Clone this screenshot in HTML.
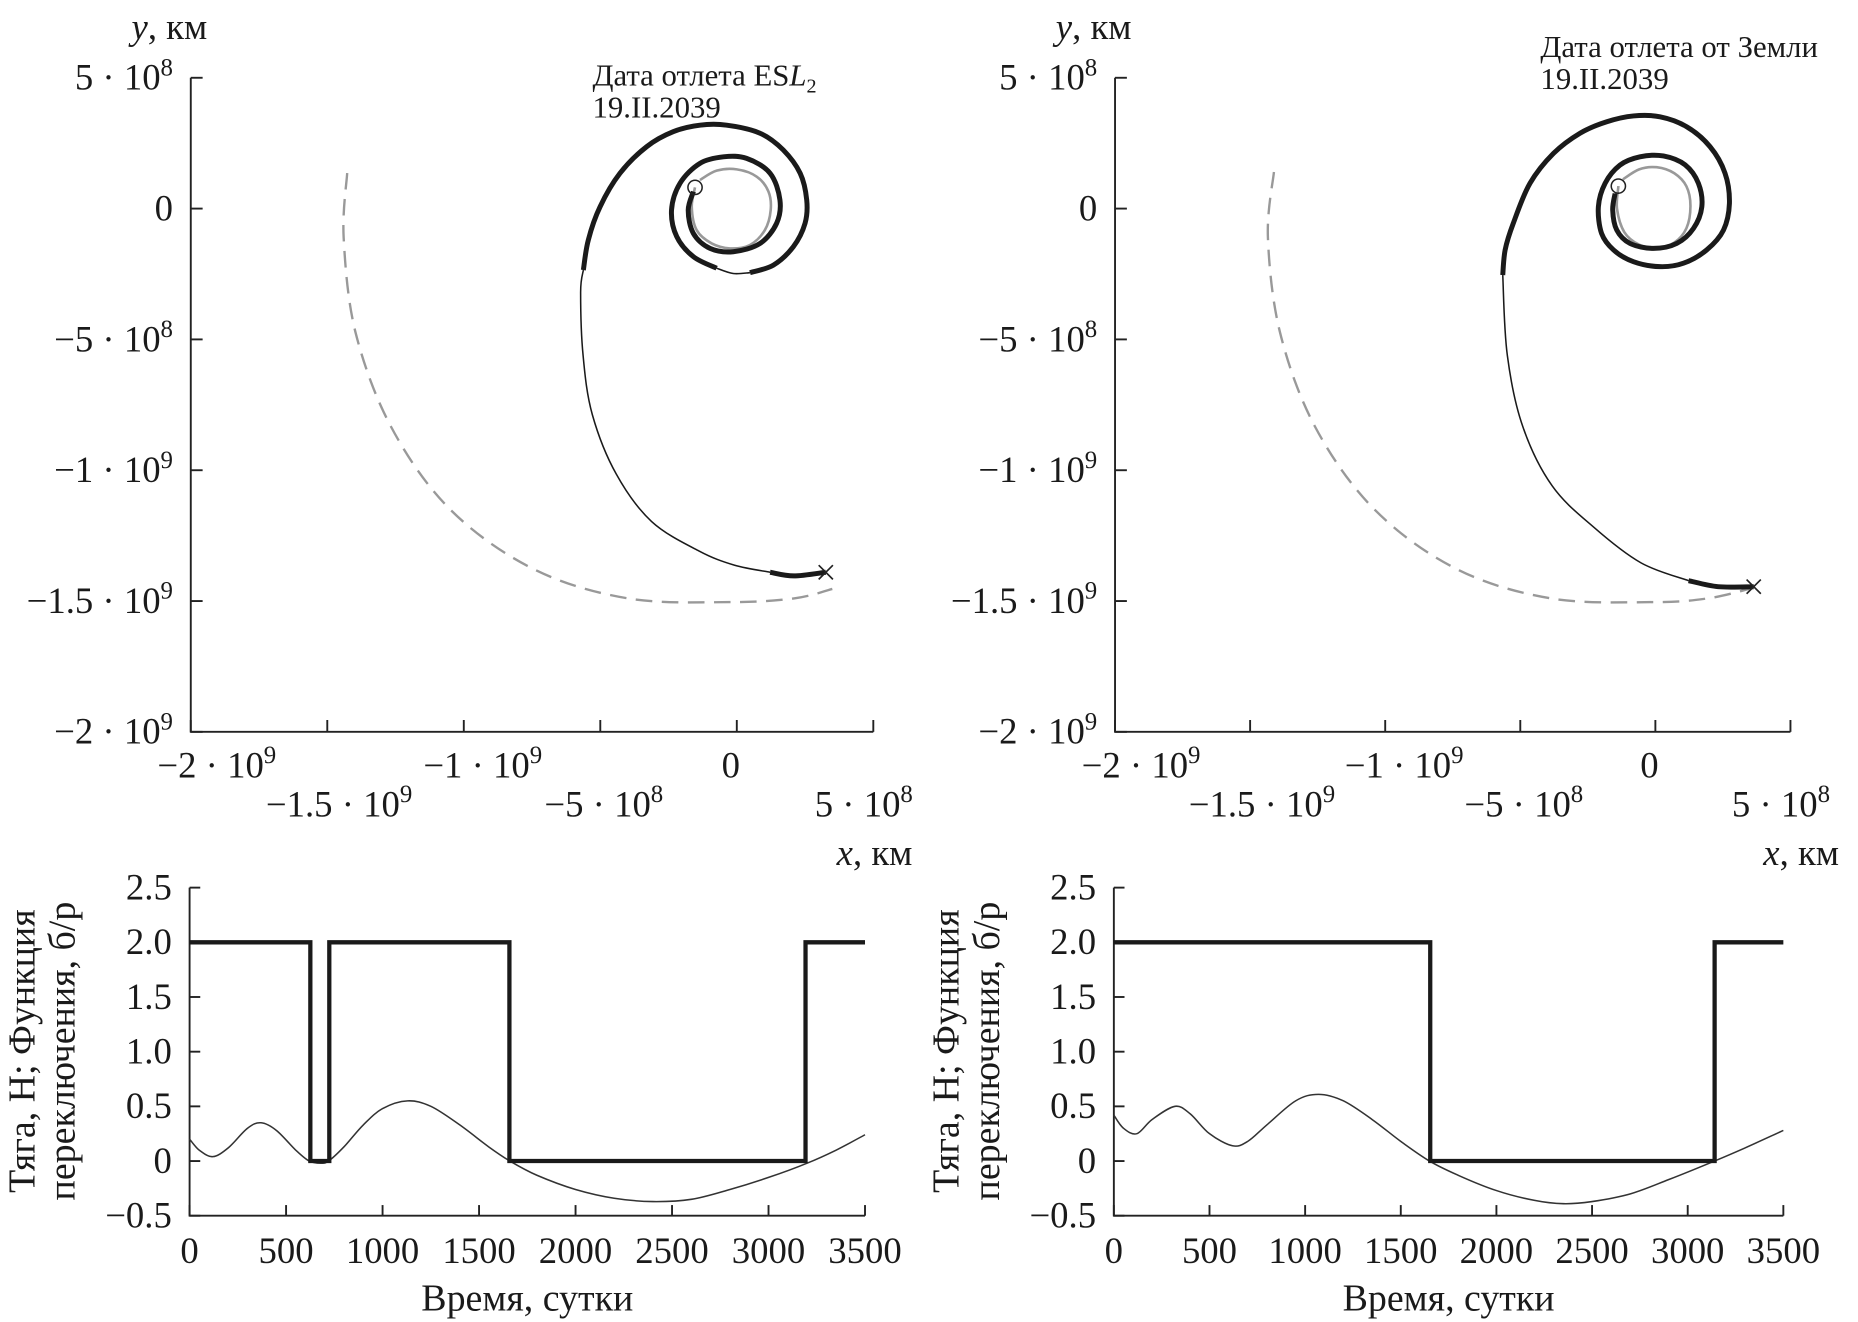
<!DOCTYPE html>
<html><head><meta charset="utf-8"><style>
html,body{margin:0;padding:0;background:#fff;}
svg{display:block;}
text{font-family:"Liberation Serif",serif;fill:#1a1a1a;}
</style></head><body>
<svg id="fig" width="1858" height="1322" viewBox="0 0 1568 1115.6" xmlns="http://www.w3.org/2000/svg"></svg>
<script>
// ===== data (trajectory coords in units of 1e8 km) =====
const leftArcs = [
 {thick:true, x:[-1.59,-1.78,-1.59,-0.98,-0.13,0.85,1.46,1.58,1.22,0.36,-0.49,-1.35,-2.08,-2.39,-2.20,-1.59,-0.74], y:[0.65,-0.06,-0.95,-1.52,-1.65,-1.33,-0.56,0.33,1.35,1.92,1.98,1.73,0.97,-0.06,-1.07,-1.84,-2.28]},
 {thick:false, x:[-0.74,-0.13,0.48], y:[-2.28,-2.48,-2.45]},
 {thick:true, x:[0.48,1.34,2.07,2.50,2.56,2.32,1.70,0.85,-0.37,-1.35,-2.33,-3.30,-4.28,-5.01,-5.44,-5.62], y:[-2.45,-2.16,-1.46,-0.56,0.33,1.35,2.24,2.88,3.19,3.19,2.94,2.37,1.35,0.07,-1.2,-2.35]},
 {thick:false, x:[-5.62,-5.72,-5.63,-5.29,-4.42,-3.12,-1.38,-0.08,1.22], y:[-2.35,-3.2,-5.62,-7.88,-10.14,-11.96,-13.09,-13.63,-13.9]},
 {thick:true, x:[1.22,2.09,3.26], y:[-13.9,-14.04,-13.9]}
];
const leftEarthX = [-1.35,-0.74,0.0,0.73,1.16,1.24,1.03,0.48,-0.25,-0.92,-1.47,-1.65,-1.53];
const leftEarthY = [1.09,1.45,1.50,1.22,0.65,-0.06,-0.82,-1.39,-1.52,-1.33,-0.82,0.07,0.81];
const leftMarsX = [-14.27,-14.4,-13.97,-12.67,-10.5,-7.46,-3.98,-0.2,2.09,3.5];
const leftMarsY = [1.36,-1.09,-4.71,-8.33,-11.5,-13.77,-14.9,-15.04,-14.9,-14.54];
const leftStart = [-1.53,0.81];
const leftEnd = [3.26,-13.9];

const rightArcs = [
 {thick:true, x:[-1.49,-1.58,-1.43,-0.94,-0.07,0.79,1.41,1.72,1.59,1.10,0.30,-0.57,-1.31,-1.86,-2.11,-1.99,-1.55,-0.81,0.17,1.04,1.90,2.52,2.74,2.58,2.02,1.16,0.17,-0.81,-1.80,-2.79,-3.77,-4.64,-5.26,-5.56,-5.65], y:[0.58,-0.06,-0.82,-1.33,-1.52,-1.33,-0.76,0.07,0.97,1.67,2.01,1.98,1.66,0.97,0.07,-0.95,-1.58,-2.03,-2.22,-2.09,-1.58,-0.82,0.20,1.35,2.37,3.13,3.51,3.54,3.32,2.88,2.11,0.97,-0.56,-1.58,-2.54]},
 {thick:false, x:[-5.65,-5.48,-4.91,-3.82,-2.28,-0.53,1.23], y:[-2.54,-5.62,-8.33,-10.6,-12.18,-13.54,-14.22]},
 {thick:true, x:[1.23,2.32,3.64], y:[-14.22,-14.45,-14.45]}
];
const rightEarthX = [-1.2,-0.6,0.05,0.7,1.15,1.3,1.15,0.7,0.05,-0.6,-1.15,-1.42,-1.37];
const rightEarthY = [1.12,1.5,1.58,1.35,0.85,0.1,-0.75,-1.3,-1.5,-1.38,-0.9,0.0,0.86];
const rightMarsX = [-14.12,-14.34,-13.9,-12.6,-10.4,-7.37,-3.86,-0.04,1.93,3.46];
const rightMarsY = [1.40,-1.09,-4.71,-8.33,-11.5,-13.77,-14.9,-15.04,-14.9,-14.54];
const rightStart = [-1.37,0.86];
const rightEnd = [3.64,-14.45];

// bottom charts: thrust (steps) and switching function
const leftThrustT = [0,626,626,724,724,1657,1657,3192,3192,3500];
const leftThrustV = [2,2,0,0,2,2,0,0,2,2];
const leftSwT = [0,50,120,200,300,370,450,550,620,680,720,800,900,1000,1130,1250,1400,1550,1660,1800,2000,2200,2400,2600,2800,3000,3200,3350,3500];
const leftSwV = [0.2,0.1,0.04,0.12,0.3,0.35,0.28,0.1,0.0,-0.02,0.0,0.13,0.33,0.48,0.55,0.5,0.33,0.13,0.0,-0.13,-0.26,-0.34,-0.37,-0.35,-0.26,-0.15,-0.02,0.1,0.24];
const rightThrustT = [0,1654,1654,3141,3141,3500];
const rightThrustV = [2,2,0,0,2,2];
const rightSwT = [0,50,120,200,320,400,500,620,700,800,950,1070,1200,1350,1500,1650,1800,2000,2200,2350,2500,2700,2900,3140,3300,3500];
const rightSwV = [0.42,0.3,0.25,0.38,0.5,0.43,0.25,0.14,0.18,0.33,0.55,0.61,0.55,0.38,0.18,0.0,-0.13,-0.27,-0.36,-0.39,-0.37,-0.3,-0.17,0.0,0.12,0.28];

const yTicksTop = [5,0,-5,-10,-15,-20];
const yTickLabelsTop = [["5 · 10","8"],["0",""],["−5 · 10","8"],["−1 · 10","9"],["−1.5 · 10","9"],["−2 · 10","9"]];
const xTicksTop = [-20,-15,-10,-5,0,5];
const xTickLabelsTop = [["−2 · 10","9"],["−1.5 · 10","9"],["−1 · 10","9"],["−5 · 10","8"],["0",""],["5 · 10","8"]];
const yTicksBot = [2.5,2.0,1.5,1.0,0.5,0,-0.5];
const yTickLabelsBot = ["2.5","2.0","1.5","1.0","0.5","0","−0.5"];
const xTicksBot = [0,500,1000,1500,2000,2500,3000,3500];

// ===== drawing =====
const svg = document.getElementById('fig');
const NS = 'http://www.w3.org/2000/svg';
const xLabelOffsets = [22,10,16,3,-5,-8];
function mk(tag, attrs, parent){
  const e = document.createElementNS(NS, tag);
  for (const k in attrs) e.setAttribute(k, attrs[k]);
  (parent||svg).appendChild(e);
  return e;
}
function txt(str, x, y, size, anchor, parent){
  const t = mk('text', {x:x, y:y, 'font-size':size, 'text-anchor':anchor||'start'}, parent);
  t.textContent = str;
  return t;
}
function sciLabel(parts, x, y, anchor, parent){
  const t = mk('text', {x:x, y:y, 'font-size':31, 'text-anchor':anchor}, parent);
  const a = document.createElementNS(NS,'tspan'); a.textContent = parts[0]; t.appendChild(a);
  if (parts[1]) {
    const b = document.createElementNS(NS,'tspan');
    b.setAttribute('dy','-12'); b.setAttribute('font-size','21'); b.textContent = parts[1]; t.appendChild(b);
  }
  return t;
}
function smooth(P){
  if (P.length < 3) return 'M' + P.map(p=>p[0].toFixed(1)+','+p[1].toFixed(1)).join(' L');
  let d = `M${P[0][0].toFixed(1)},${P[0][1].toFixed(1)}`;
  for (let i=0;i<P.length-1;i++){
    const p0 = P[i-1]||P[i], p1=P[i], p2=P[i+1], p3=P[i+2]||P[i+1];
    const c1 = [p1[0]+(p2[0]-p0[0])/6, p1[1]+(p2[1]-p0[1])/6];
    const c2 = [p2[0]-(p3[0]-p1[0])/6, p2[1]-(p3[1]-p1[1])/6];
    d += ` C${c1[0].toFixed(1)},${c1[1].toFixed(1)} ${c2[0].toFixed(1)},${c2[1].toFixed(1)} ${p2[0].toFixed(1)},${p2[1].toFixed(1)}`;
  }
  return d;
}

function topPanel(cfg){
  const g = mk('g', {});
  
  
  const X = v => cfg.x0 + v*cfg.kx;
  const Y = v => 176 - v*22.08;
  const left = X(-20), right = X(5), top = Y(5), bottom = Y(-20);
  const ax = mk('path', {d:`M${left},${top} L${left},${bottom} L${right},${bottom}`, fill:'none', stroke:'#222', 'stroke-width':1.6}, g);
   
  yTicksTop.forEach((v,i)=>{
    mk('line',{x1:left,y1:Y(v),x2:left+10,y2:Y(v),stroke:'#222','stroke-width':1.6},g);
    const l = sciLabel(yTickLabelsTop[i], left-15, Y(v)+10, 'end', g);
     
  });
  xTicksTop.forEach((v,i)=>{
    mk('line',{x1:X(v),y1:bottom,x2:X(v),y2:bottom-10,stroke:'#222','stroke-width':1.6},g);
    const row = (i%2===0) ? 656 : 689;
    const l = sciLabel(xTickLabelsTop[i], X(v)+xLabelOffsets[i], row, 'middle', g);
     
  });
  const yt = mk('text',{x:left-50,y:33,'font-size':31},g);
  yt.innerHTML = '<tspan font-style="italic">y</tspan>, км';
   
  const xt = mk('text',{x:cfg.xtitleX,y:730,'font-size':31,'text-anchor':'end'},g);
  xt.innerHTML = '<tspan font-style="italic">x</tspan>, км';
   
  const a1 = mk('text',{x:cfg.annX,y:cfg.annY,'font-size':26},g);
  a1.innerHTML = cfg.ann;
   
  const a2 = txt('19.II.2039', cfg.annX, cfg.annY+27, 26, 'start', g);
   
  const P = (xs,ys)=> xs.map((v,i)=>[X(v),Y(ys[i])]);
  const mars = mk('path',{d:smooth(P(cfg.marsX,cfg.marsY)),fill:'none',stroke:'#999','stroke-width':2,'stroke-dasharray':'14 8'},g);
   
  const earth = mk('path',{d:smooth(P(cfg.earthX,cfg.earthY)),fill:'none',stroke:'#999','stroke-width':2.2},g);
   
  cfg.arcs.forEach(a=>{
    const p = mk('path',{d:smooth(P(a.x,a.y)),fill:'none',stroke:'#1a1a1a','stroke-width':a.thick?4.2:1.3,'stroke-linecap':'butt'},g);
    
    
  });
  const c = mk('circle',{cx:X(cfg.start[0]),cy:Y(cfg.start[1]),r:6,fill:'none',stroke:'#222','stroke-width':1.3},g);
   
  const ex = X(cfg.end[0]), ey = Y(cfg.end[1]);
  const m = mk('path',{d:`M${ex-6},${ey-6} L${ex+6},${ey+6} M${ex-6},${ey+6} L${ex+6},${ey-6}`,stroke:'#222','stroke-width':1.4},g);
   
}

function botPanel(cfg){
  const g = mk('g', {});
  
  
  const X = t => cfg.x0 + t*cfg.kx;
  const Y = v => 979.8 - v*92.3;
  const left = X(0), right = X(3500), top = Y(2.5), bottom = Y(-0.5);
  const ax = mk('path',{d:`M${left},${top} L${left},${bottom} L${right},${bottom}`,fill:'none',stroke:'#222','stroke-width':1.6},g);
   
  yTicksBot.forEach((v,i)=>{
    mk('line',{x1:left,y1:Y(v),x2:left+9,y2:Y(v),stroke:'#222','stroke-width':1.6},g);
    const l = txt(yTickLabelsBot[i], left-15, Y(v)+10, 31, 'end', g);
     
  });
  xTicksBot.forEach(v=>{
    mk('line',{x1:X(v),y1:bottom,x2:X(v),y2:bottom-9,stroke:'#222','stroke-width':1.6},g);
    const l = txt(String(v), X(v), 1066, 31, 'middle', g);
     
  });
  const xt = txt('Время, сутки', (left+right)/2, 1106, 32, 'middle', g);
   
  const yt = mk('text',{transform:`translate(${left-131},887) rotate(-90)`,'font-size':32,'text-anchor':'middle'},g);
  yt.textContent = 'Тяга, Н; Функция';
   
  const yt2 = mk('text',{transform:`translate(${left-97},887) rotate(-90)`,'font-size':32,'text-anchor':'middle'},g);
  yt2.textContent = 'переключения, б/р';
   
  const P = (ts,vs)=> ts.map((t,i)=>[X(t),Y(vs[i])]);
  const sw = mk('path',{d:smooth(P(cfg.swT,cfg.swV)),fill:'none',stroke:'#333','stroke-width':1.3},g);
   
  const th = mk('polyline',{points:P(cfg.thT,cfg.thV).map(p=>p[0].toFixed(1)+','+p[1].toFixed(1)).join(' '),fill:'none',stroke:'#1a1a1a','stroke-width':3.6,'stroke-linejoin':'miter'},g);
   
}

topPanel({name:'left-trajectory-plot', x0:621.8, kx:23.04, arcs:leftArcs, earthX:leftEarthX, earthY:leftEarthY, marsX:leftMarsX, marsY:leftMarsY, start:leftStart, end:leftEnd, xtitleX:770, annX:500, annY:72, ann:'Дата отлета ES<tspan font-style="italic">L</tspan><tspan font-size="17" dy="6">2</tspan>'});
topPanel({name:'right-trajectory-plot', x0:1397, kx:22.8, arcs:rightArcs, earthX:rightEarthX, earthY:rightEarthY, marsX:rightMarsX, marsY:rightMarsY, start:rightStart, end:rightEnd, xtitleX:1552, annX:1300, annY:48, ann:'Дата отлета от Земли'});
botPanel({name:'left-thrust-plot', x0:160, kx:570/3500, thT:leftThrustT, thV:leftThrustV, swT:leftSwT, swV:leftSwV});
botPanel({name:'right-thrust-plot', x0:940, kx:565/3500, thT:rightThrustT, thV:rightThrustV, swT:rightSwT, swV:rightSwV});
</script>
</body></html>
